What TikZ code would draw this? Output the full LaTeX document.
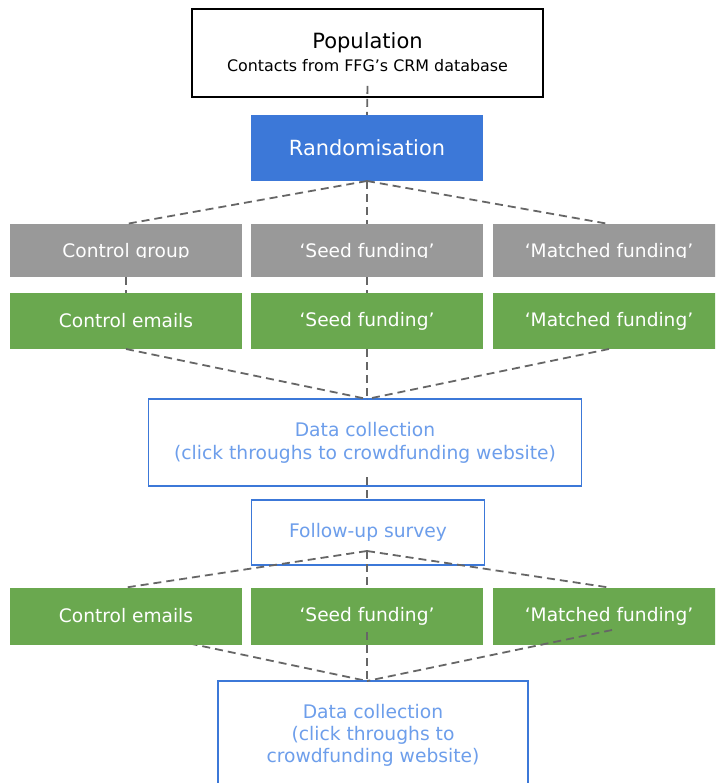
\documentclass[tikz,border=0pt]{standalone}
\usepackage{fontspec}
\setmainfont{DejaVu Sans}
\usetikzlibrary{calc}
\definecolor{blueF}{HTML}{3C78D8}
\definecolor{blueT}{HTML}{6D9EEB}
\definecolor{grayF}{HTML}{999999}
\definecolor{greenF}{HTML}{6AA84F}
\definecolor{lineC}{HTML}{666666}
\pgfdeclarelayer{bg}
\pgfsetlayers{bg,main}
\begin{document}
\begin{tikzpicture}[x=1pt,y=-1pt,
  cell/.style={minimum width=232pt, inner sep=0pt, outer sep=0pt, text=white, align=center, font=\fontsize{18.6}{22}\selectfont},
  graycell/.style={cell, fill=grayF, minimum height=53pt},
  greencell/.style={cell, fill=greenF, minimum height=57pt},
  outline/.style={draw=blueF, line width=1.8pt, fill=white, inner sep=0pt, outer sep=0pt, text=blueT, align=center, font=\fontsize{18.7}{23}\selectfont},
  dl/.style={draw=lineC, line width=1.8pt, dash pattern=on 8pt off 5pt}]
\useasboundingbox (0,0) rectangle (715,783);
\clip (0,0) rectangle (715,783);

% population
\node[draw=black, line width=1.8pt, minimum width=351pt, minimum height=88pt, inner sep=0pt] (pop) at (367.5,53) {};
\node[font=\fontsize{21}{24}\selectfont, inner sep=0pt] (popt) at (367.5,43) {Population};
\node[font=\fontsize{15.9}{18}\selectfont, inner sep=0pt] (popc) at (367.5,66) {Contacts from FFG’s CRM database};

% randomisation
\node[cell, fill=blueF, minimum height=66pt, font=\fontsize{20.9}{24}\selectfont] (rand) at (367,148) {Randomisation};

% gray row (labels clipped at baseline as in the reference)
\node[graycell] (g1) at (126,250.5) {};
\node[graycell] (g2) at (367,250.5) {};
\node[graycell] (g3) at (609,250.5) {};
\begin{scope}
\clip (0,224) rectangle (715,258);
\node[cell] (g1t) at (126,252) {Control group};
\node[cell] (g2t) at (367,252) {‘Seed funding’};
\node[cell] (g3t) at (609,252) {‘Matched funding’};
\end{scope}

% green row 1
\node[greencell, minimum height=56pt] (e1) at (126,321) {Control emails};
\node[greencell, minimum height=56pt] (e2) at (367,321) {‘Seed funding’};
\node[greencell, minimum height=56pt] (e3) at (609,321) {‘Matched funding’};

% data collection 1
\node[outline, minimum width=433pt, minimum height=87pt] (d1) at (365,442.5) {Data collection\\(click throughs to crowdfunding website)};
\coordinate (d1top) at ($(d1.north)+(2,0)$);

% follow-up survey
\node[outline, minimum width=233pt, minimum height=65pt] (fu) at (368,532.5) {Follow-up survey};
\coordinate (futop) at ($(fu.north)+(-1,0)$);

% green row 2
\node[greencell] (e4) at (126,616) {Control emails};
\node[greencell] (e5) at (367,616) {‘Seed funding’};
\node[greencell] (e6) at (609,616) {‘Matched funding’};

% data collection 2
\node[outline, minimum width=310pt, minimum height=108pt, font=\fontsize{18.7}{22}\selectfont] (d2) at (373,735) {Data collection\\(click throughs to\\crowdfunding website)};
\coordinate (d2top) at ($(d2.north)+(-6,0)$);

% connectors
\draw[dl] ($(pop.south)+(0,-12)$) -- (rand.north);
\draw[dl] (rand.south) -- (g1.north);
\draw[dl] (rand.south) -- (g2.north);
\draw[dl] (rand.south) -- (g3.north);
\draw[dl] (g1.south) -- (e1.north);
\draw[dl] (g2.south) -- (e2.north);
\draw[dl] (e1.south) -- (d1top);
\draw[dl] (e2.south) -- (d1top);
\draw[dl] (e3.south) -- (d1top);
\draw[dl] ($(d1.south)+(2,-9)$) -- (futop);
\coordinate (fuo) at ($(fu.south)+(-1,-14)$);
\draw[dl] (fuo) -- (e4.north);
\draw[dl] (fuo) -- (e5.north);
\draw[dl] (fuo) -- (e6.north);
\begin{pgfonlayer}{bg}
\draw[dl] ($(e4.center)+(0,14)$) -- (d2top);
\end{pgfonlayer}
\draw[dl] ($(e5.center)+(0,16)$) -- (d2top);
\draw[dl] ($(e6.center)+(3,14)$) -- (d2top);
\end{tikzpicture}
\end{document}
